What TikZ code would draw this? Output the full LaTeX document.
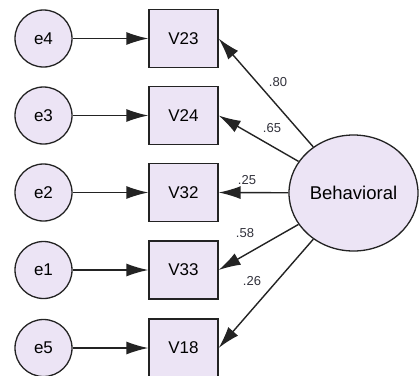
\documentclass[tikz,border=0pt]{standalone}
\usepackage{fontspec}
\setmainfont{Liberation Sans}
\usetikzlibrary{shapes.geometric,arrows.meta}
\definecolor{nodefill}{RGB}{236,228,245}
\definecolor{inkline}{RGB}{35,35,35}
\definecolor{labeltext}{RGB}{50,50,60}
\tikzset{
  errvar/.style={circle,draw=inkline,line width=1.3pt,fill=nodefill,minimum size=57pt,inner sep=0pt,font=\fontsize{17}{19}\selectfont},
  obsvar/.style={rectangle,draw=inkline,line width=1.3pt,fill=nodefill,minimum width=69pt,minimum height=58pt,inner sep=0pt,font=\fontsize{17}{19}\selectfont},
  latvar/.style={ellipse,draw=inkline,line width=1.3pt,fill=nodefill,minimum width=129pt,minimum height=116pt,inner sep=0pt,font=\fontsize{18.5}{20}\selectfont},
  path/.style={draw=inkline,line width=1.4pt,-{Latex[length=22pt,width=13pt]}},
  wlabel/.style={text=labeltext,font=\fontsize{13}{14}\selectfont,inner sep=0pt}
}
\begin{document}
\begin{tikzpicture}[x=1pt,y=-1pt]
\useasboundingbox (0,0) rectangle (419,375);
\fill[white] (0,0) rectangle (419,375);
% error terms
\node[errvar] (e4) at (43.5,38.5) {e4};
\node[errvar] (e3) at (43.5,115.5) {e3};
\node[errvar] (e2) at (43.5,192.5) {e2};
\node[errvar] (e1) at (43.5,270) {e1};
\node[errvar] (e5) at (43.5,348) {e5};
% observed indicators
\node[obsvar] (v23) at (183.5,38.5) {V23};
\node[obsvar] (v24) at (183.5,115.5) {V24};
\node[obsvar] (v32) at (183.5,192.5) {V32};
\node[obsvar] (v33) at (183.5,270) {V33};
\node[obsvar] (v18) at (183.5,348) {V18};
% latent factor
\node[latvar] (beh) at (353.5,193) {Behavioral};
% error paths
\foreach \e/\v in {e4/v23,e3/v24,e2/v32,e1/v33,e5/v18}
  \draw[path] (\e.east) -- (\v.west);
% loadings
\foreach \v in {v23,v24,v32,v33,v18}
  \draw[path] (beh) -- (\v.east);
% standardized weights
\node[wlabel] (w23) at (278,82) {.80};
\node[wlabel] (w24) at (272,128) {.65};
\node[wlabel] (w32) at (247,180) {.25};
\node[wlabel] (w33) at (245,233) {.58};
\node[wlabel] (w18) at (252,281) {.26};
\end{tikzpicture}
\end{document}
